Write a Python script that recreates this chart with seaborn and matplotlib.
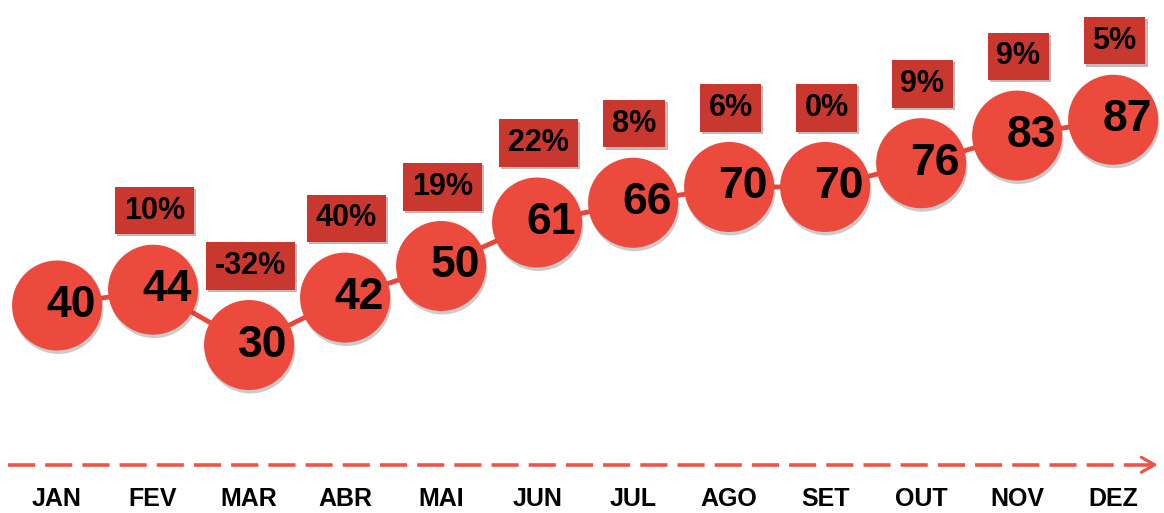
import numpy as np
import pandas as pd
import matplotlib
matplotlib.use('Agg')
import matplotlib.pyplot as plt
import matplotlib.patheffects as pe
import seaborn as sns

# data
months = ['JAN', 'FEV', 'MAR', 'ABR', 'MAI', 'JUN', 'JUL', 'AGO', 'SET', 'OUT', 'NOV', 'DEZ']
values = [40, 44, 30, 42, 50, 61, 66, 70, 70, 76, 83, 87]
changes = [None, '10%', '-32%', '40%', '19%', '22%', '8%', '6%', '0%', '9%', '9%', '5%']

df = pd.DataFrame({'idx': np.arange(len(months)), 'month': months, 'value': values})

sns.set_theme(style='white')
plt.rcParams['font.family'] = ['Liberation Sans', 'DejaVu Sans']

circle_red = '#EC4A3D'
box_red = '#C8382F'
line_red = '#E8463A'

fig = plt.figure(figsize=(11.64, 5.13), dpi=100)
ax = fig.add_axes([0, 0, 1, 1])

# connecting line
sns.lineplot(data=df, x='idx', y='value', ax=ax, color=line_red, linewidth=3.5,
             zorder=1, legend=False)

# circles
sns.scatterplot(data=df, x='idx', y='value', ax=ax, s=4200, color=circle_red,
                edgecolor='none', linewidth=0, zorder=2, legend=False,
                path_effects=[pe.SimplePatchShadow(offset=(1, -2.5), alpha=0.3,
                                                   shadow_rgbFace='#555555'),
                              pe.Normal()])

# value labels and change boxes
for i, (v, c) in enumerate(zip(values, changes)):
    ax.annotate(str(v), (i, v), xytext=(10, 0), textcoords='offset points',
                ha='center', va='center', fontsize=32, fontweight='bold',
                color='black', zorder=4)
    if c is not None:
        ax.annotate(c, (i, v), xytext=(1, 57), textcoords='offset points',
                    ha='center', va='center', fontsize=22, fontweight='bold',
                    color='black', zorder=5,
                    bbox=dict(boxstyle='square,pad=0.29', fc=box_red, ec='none',
                              path_effects=[pe.SimplePatchShadow(offset=(1.5, -1.5), alpha=0.3),
                                            pe.Normal()]))

# month labels
xt = ax.get_xaxis_transform()
for i, m in enumerate(months):
    ax.text(i, 0.028, m, transform=xt, ha='center', va='center',
            fontsize=18, fontweight='bold', color='black')

# dashed timeline arrow
ax.plot([0.007, 0.99], [0.094, 0.094], transform=ax.transAxes, color='#EF5446',
        linewidth=2.6, linestyle=(0, (7.5, 2.8)), solid_capstyle='butt')
ax.annotate('', xy=(0.997, 0.094), xytext=(0.985, 0.094), xycoords='axes fraction',
            arrowprops=dict(arrowstyle='->,head_length=0.8,head_width=0.45',
                            color='#EF5446', lw=2.2))

ax.set_xlim(-0.594, 11.53)
ax.set_ylim(-12.5, 117.3)
ax.axis('off')

fig.savefig('out.png', dpi=100)
